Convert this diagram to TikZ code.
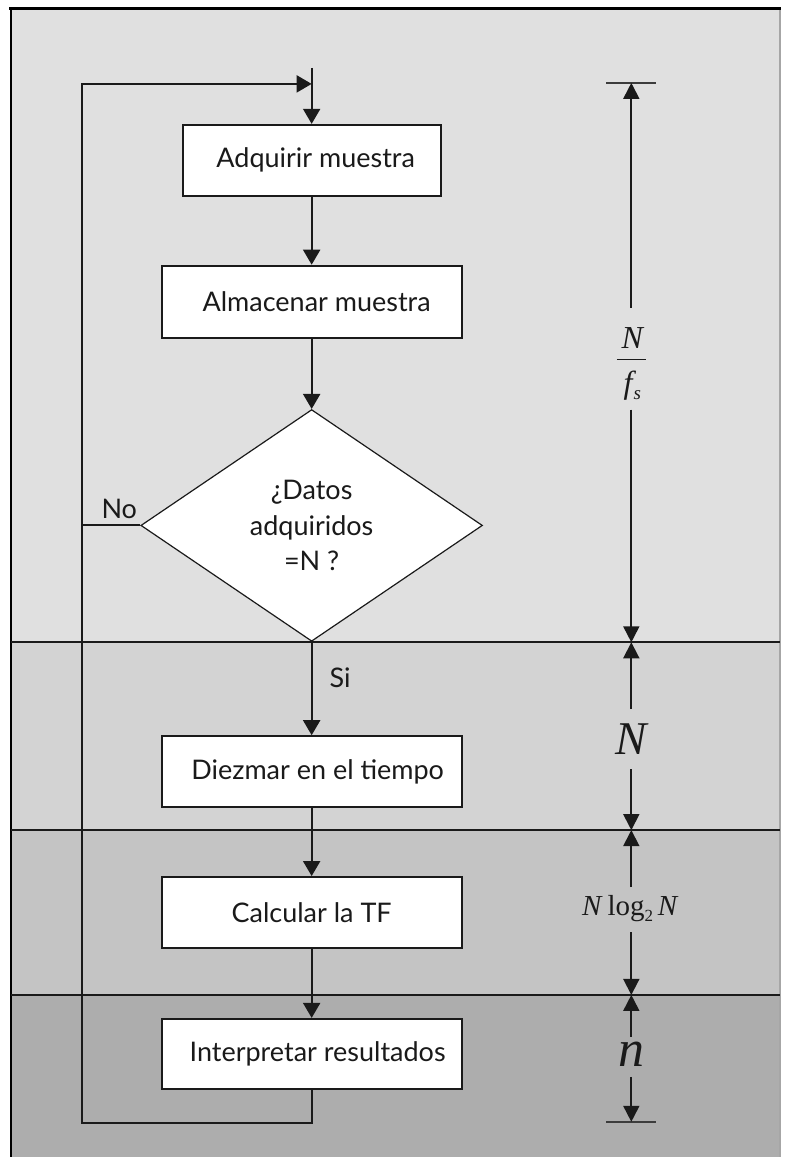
\documentclass[tikz,border=0pt]{standalone}
\usepackage{fontspec}
\setmainfont{Lato}
\newfontfamily\tms{Liberation Serif}
\usetikzlibrary{arrows.meta,shapes.geometric}
\definecolor{bandA}{HTML}{E0E0E0}
\definecolor{bandB}{HTML}{D3D3D3}
\definecolor{bandC}{HTML}{C4C4C4}
\definecolor{bandD}{HTML}{ADADAD}
\definecolor{ink}{HTML}{1A1A1A}
\begin{document}
\begin{tikzpicture}[x=1pt,y=-1pt,
  procbox/.style={draw=ink,line width=2pt,fill=white,inner sep=0pt,
    font=\fontsize{27}{32}\selectfont,text=ink},
  decbox/.style={diamond,draw=ink,line width=1.2pt,fill=white,inner sep=0pt,
    minimum width=342pt,minimum height=232pt,align=center,
    font=\fontsize{27}{36}\selectfont,text=ink},
  conn/.style={draw=ink,line width=2pt},
  arr/.style={conn,-{Triangle[length=15pt,width=17pt]}},
  dimarr/.style={draw=ink,line width=1.8pt,-{Triangle[length=16pt,width=16pt]}},
  tick/.style={draw=ink!85,line width=1.8pt},
  sep/.style={draw=ink,line width=2pt},
  lbl/.style={font=\fontsize{27}{32}\selectfont,text=ink,inner sep=0pt},
  dimlbl/.style={text=ink,inner sep=0pt}
]
% canvas and bands
\fill[white] (0,0) rectangle (787,1158);
\fill[bandA] (11,9) rectangle (781,643);
\fill[bandB] (11,643) rectangle (781,831);
\fill[bandC] (11,831) rectangle (781,996);
\fill[bandD] (11,996) rectangle (781,1158);
\draw[black,line width=3pt] (9.5,9) -- (782,9);
\draw[black,line width=2pt] (11,9) -- (11,1158);
\draw[black!35,line width=2.5pt] (781,10) -- (781,1158);
\draw[sep] (11,643) -- (781,643);
\draw[sep] (11,831) -- (781,831);
\draw[sep] (11,996) -- (781,996);

% flow nodes
\node[procbox,minimum width=258pt,minimum height=71pt] (a1) at (312,160.5) {\hspace*{8pt}Adquirir muestra};
\node[procbox,minimum width=300pt,minimum height=72pt] (a2) at (312,302) {\hspace*{10pt}Almacenar muestra};
\node[decbox] (d) at (312,526) {¿Datos\\adquiridos\\=N ?};
\node[procbox,minimum width=300pt,minimum height=71pt] (a3) at (312,772.5) {\hspace*{12pt}Diezmar en el tiempo};
\node[procbox,minimum width=300pt,minimum height=71pt] (a4) at (312,913.5) {Calcular la TF};
\node[procbox,minimum width=300pt,minimum height=70pt] (a5) at (312,1055) {\hspace*{12pt}Interpretar resultados};

\coordinate (top) at (312,68);
\coordinate (merge) at (312,84);
\coordinate (bl) at (82,1124);

% connectors
\draw[arr] (top) -- (a1.north);
\draw[arr] (a1.south) -- (a2.north);
\draw[arr] (a2.south) -- (d.north);
\draw[arr] (d.south) -- node[lbl,right=17pt,pos=0.38] (si) {Si} (a3.north);
\draw[arr] (a3.south) -- (a4.north);
\draw[arr] (a4.south) -- (a5.north);
\draw[arr] (a5.south) |- (bl) |- (merge);
\draw[conn] (d.west) -- (d.west -| bl) node[lbl,pos=0.36,above=6pt] (no) {No};

% dimension column
\coordinate (t1) at (632,83);
\coordinate (t2) at (632,1123);
\draw[tick] (607,83) -- (657,83);
\draw[tick] (607,1123) -- (657,1123);
\coordinate (b1) at (632,643);
\coordinate (b2) at (632,831);
\coordinate (b3) at (632,996);

\node[dimlbl,font=\fontsize{32}{32}\selectfont\tms\itshape] (fn) at (633,338) {N};
\draw[draw=ink,line width=1.5pt] (617.5,360) -- (646.5,360);
\node[dimlbl,font=\fontsize{32}{32}\selectfont\tms\itshape] (fd) at (633,386) {f\kern1pt\raisebox{-6pt}{\fontsize{19}{19}\selectfont s}};
\node[dimlbl,font=\fontsize{47}{47}\selectfont\tms\itshape] (m2) at (632,740) {N};
\node[dimlbl,font=\fontsize{29}{29}\selectfont\tms] (m3) at (631,910) {\textit{N}\,log\raisebox{-6pt}{\fontsize{17}{17}\selectfont 2}\,\textit{N}};
\node[dimlbl,font=\fontsize{52}{52}\selectfont\tms\itshape] (m4) at (632,1055) {n};

\draw[dimarr] (632,308) -- (t1);
\draw[dimarr] (632,410) -- (b1);
\draw[dimarr] (632,710) -- (b1);
\draw[dimarr] (632,770) -- (b2);
\draw[dimarr] (632,888) -- (b2);
\draw[dimarr] (632,933) -- (b3);
\draw[dimarr] (632,1038) -- (b3);
\draw[dimarr] (632,1078) -- (t2);
\end{tikzpicture}
\end{document}
